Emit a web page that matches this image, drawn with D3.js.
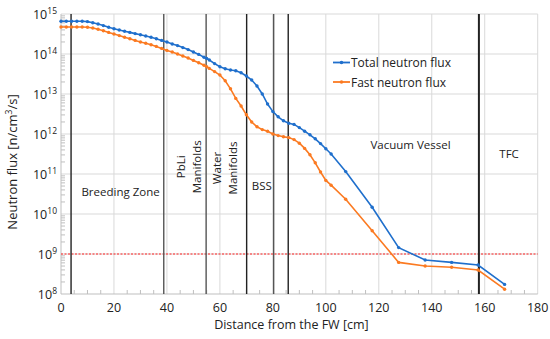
<!DOCTYPE html>
<html lang="en">
<head>
<meta charset="UTF-8">
<title>Neutron flux vs distance from the FW</title>
<script src="https://d3js.org/d3.v7.min.js"></script>
<style>
  body { margin: 0; background: #fff; font-family: "Open Sans", "Noto Sans", sans-serif; }
  .grid line { stroke: #d9d9d9; stroke-width: 1; }
  .tick-label { font-size: 12.5px; fill: #222; }
  .zone { font-size: 11.5px; fill: #222; }
</style>
</head>
<body>
<div id="chart"></div>
<script>
// distance from the FW [cm]
const distance = [0, 2, 4, 6, 8, 10, 12, 14, 16, 18, 20, 22, 24, 26, 28, 30, 32, 34, 36, 38, 40,
  42, 44, 46, 48, 50, 52, 54, 55, 56, 58, 60, 62, 64, 66, 68, 70, 72, 74, 76, 78, 80, 82, 84, 86,
  88, 90, 92, 94, 96, 98, 100, 102, 107.5, 117.5, 127.5, 137.5, 147.5, 157.5, 167.5];

// log10 of flux [n/cm^3/s]
const totalLog = [14.82, 14.82, 14.82, 14.82, 14.82, 14.81, 14.78, 14.75, 14.71, 14.67, 14.63,
  14.60, 14.57, 14.54, 14.51, 14.48, 14.45, 14.42, 14.38, 14.34, 14.30, 14.25, 14.21, 14.16, 14.11,
  14.05, 13.99, 13.92, 13.89, 13.85, 13.76, 13.68, 13.63, 13.60, 13.58, 13.53, 13.45, 13.35, 13.20,
  13.00, 12.75, 12.56, 12.43, 12.33, 12.27, 12.24, 12.16, 12.07, 11.98, 11.88, 11.76, 11.63, 11.50,
  11.06, 10.17, 9.16, 8.85, 8.79, 8.725, 8.24];

const fastLog = [14.675, 14.675, 14.675, 14.675, 14.675, 14.67, 14.65, 14.62, 14.58, 14.54, 14.50,
  14.46, 14.42, 14.38, 14.34, 14.30, 14.27, 14.23, 14.19, 14.14, 14.09, 14.05, 14.00, 13.95, 13.90,
  13.84, 13.78, 13.72, 13.68, 13.64, 13.56, 13.475, 13.33, 13.13, 12.89, 12.70, 12.48, 12.30, 12.18,
  12.11, 12.07, 12.00, 11.96, 11.93, 11.91, 11.86, 11.77, 11.64, 11.48, 11.28, 11.05, 10.84, 10.72,
  10.37, 9.58, 8.79, 8.70, 8.67, 8.60, 8.12];

const seriesNames = ["Total neutron flux", "Fast neutron flux"];
const seriesColors = ["#1f6fcc", "#fb7a21"];

const xTicks = [0, 20, 40, 60, 80, 100, 120, 140, 160, 180];
const yExponents = [8, 9, 10, 11, 12, 13, 14, 15];

// region boundaries [cm]
const boundaries = [3.8, 38.8, 54.8, 70.1, 80.3, 85.8, 157.8];
const limitFlux = 1e9;

// zone labels, placed in data units (cm, log10 flux)
const zones = [
  { lines: ["Breeding Zone"], x: 22.5, y: 10.45, rot: false },
  { lines: ["PbLi", "Manifolds"], x: 46.8, y: 11.18, rot: true },
  { lines: ["Water", "Manifolds"], x: 60.4, y: 11.15, rot: true },
  { lines: ["BSS"], x: 75.8, y: 10.6, rot: false },
  { lines: ["Vacuum Vessel"], x: 132, y: 11.62, rot: false },
  { lines: ["TFC"], x: 169.2, y: 11.4, rot: false }
];

const W = 550, H = 339;
const margin = { top: 14, right: 12.3, bottom: 45, left: 61 };
const width = W - margin.left - margin.right,
      height = H - margin.top - margin.bottom;

const svg = d3.select("#chart").append("svg")
  .attr("width", W).attr("height", H);
const g = svg.append("g").attr("transform", `translate(${margin.left},${margin.top})`);

const x = d3.scaleLinear().domain([0, 180]).range([0, width]);
const y = d3.scaleLog().domain([1e8, 1e15]).range([height, 0]);

// gridlines
const grid = g.append("g").attr("class", "grid");
grid.selectAll(".gx").data(xTicks.slice(1)).enter().append("line")
  .attr("x1", d => x(d)).attr("x2", d => x(d)).attr("y1", 0).attr("y2", height);
grid.selectAll(".gy").data(yExponents.slice(1)).enter().append("line")
  .attr("x1", 0).attr("x2", width)
  .attr("y1", d => y(Math.pow(10, d))).attr("y2", d => y(Math.pow(10, d)));

// axis lines + minor ticks
g.append("line").attr("x1", 0).attr("x2", 0).attr("y1", 0).attr("y2", height)
  .attr("stroke", "#bfbfbf");
g.append("line").attr("x1", 0).attr("x2", width).attr("y1", height).attr("y2", height)
  .attr("stroke", "#bfbfbf");

const minorY = [];
yExponents.slice(0, -1).forEach(e => { for (let m = 2; m < 10; m++) minorY.push(m * Math.pow(10, e)); });
g.selectAll(".my").data(minorY).enter().append("line")
  .attr("x1", 0).attr("x2", 4)
  .attr("y1", d => y(d)).attr("y2", d => y(d))
  .attr("stroke", "#bfbfbf");
g.selectAll(".mx").data(d3.range(5, 180, 5).filter(v => v % 20 !== 0)).enter().append("line")
  .attr("x1", d => x(d)).attr("x2", d => x(d))
  .attr("y1", height).attr("y2", height - 4)
  .attr("stroke", "#bfbfbf");

// tick labels
g.selectAll(".xl").data(xTicks).enter().append("text")
  .attr("class", "tick-label")
  .attr("x", d => x(d)).attr("y", height + 18)
  .attr("text-anchor", "middle")
  .text(d => d);

const yl = g.selectAll(".yl").data(yExponents).enter().append("text")
  .attr("class", "tick-label")
  .attr("x", -4).attr("y", d => y(Math.pow(10, d)) + 5)
  .attr("text-anchor", "end");
yl.append("tspan").text("10");
yl.append("tspan").attr("dy", -5).style("font-size", "8.5px").text(d => d);

// axis titles
svg.append("text")
  .attr("x", margin.left + x(87)).attr("y", 329)
  .attr("text-anchor", "middle")
  .style("font-size", "12.5px").attr("fill", "#222")
  .text("Distance from the FW [cm]");

const yTitle = svg.append("text")
  .attr("transform", `translate(17,${margin.top + y(2e11)}) rotate(-90)`)
  .attr("text-anchor", "middle")
  .style("font-size", "13px").attr("fill", "#222");
yTitle.append("tspan").text("Neutron flux [n/cm");
yTitle.append("tspan").attr("dy", -5).style("font-size", "8.5px").text("3");
yTitle.append("tspan").attr("dy", 5).text("/s]");

// 1e9 limit line
g.append("line")
  .attr("x1", 0).attr("x2", width)
  .attr("y1", y(limitFlux)).attr("y2", y(limitFlux))
  .attr("stroke", "#ff2020").attr("stroke-width", 1)
  .attr("stroke-dasharray", "2,1.5");

// region boundaries
g.selectAll(".bd").data(boundaries).enter().append("line")
  .attr("x1", d => x(d)).attr("x2", d => x(d))
  .attr("y1", 0).attr("y2", height)
  .attr("stroke", (d, i) => (i === 1 || i === 2 || i === 4) ? "#555" : "#222")
  .attr("stroke-width", (d, i) => i === 6 ? 2 : 1.4);

// zone labels
zones.forEach(z => {
  const t = g.append("text").attr("class", "zone");
  if (z.rot) {
    t.attr("transform", `translate(${x(z.x)},${y(Math.pow(10, z.y))}) rotate(-90)`)
      .attr("text-anchor", "middle");
    z.lines.forEach((l, i) => t.append("tspan").attr("x", 0).attr("dy", i === 0 ? 0 : 16).text(l));
  } else {
    t.attr("x", x(z.x)).attr("y", y(Math.pow(10, z.y)))
      .attr("text-anchor", "middle").text(z.lines[0]);
  }
});

// series
const series = [totalLog, fastLog];
const line = d3.line().x(d => x(d[0])).y(d => y(Math.pow(10, d[1])));
series.forEach((vals, si) => {
  const pts = distance.map((d, i) => [d, vals[i]]);
  g.append("path").datum(pts)
    .attr("fill", "none").attr("stroke", seriesColors[si]).attr("stroke-width", 1.6)
    .attr("d", line);
  g.selectAll(".pt" + si).data(pts).enter().append("circle")
    .attr("cx", d => x(d[0])).attr("cy", d => y(Math.pow(10, d[1])))
    .attr("r", 1.7).attr("fill", seriesColors[si]);
});

// legend
const legend = svg.append("g").attr("transform", "translate(333,62.5)");
seriesNames.forEach((n, i) => {
  const row = legend.append("g").attr("transform", `translate(0,${i * 19.5})`);
  row.append("line").attr("x1", 0).attr("x2", 17).attr("stroke", seriesColors[i]).attr("stroke-width", 1.8);
  row.append("circle").attr("cx", 8.5).attr("r", 1.8).attr("fill", seriesColors[i]);
  row.append("text").attr("x", 18).attr("y", 4.5)
    .style("font-size", "12px").attr("fill", "#222").text(n);
});
</script>
</body>
</html>
